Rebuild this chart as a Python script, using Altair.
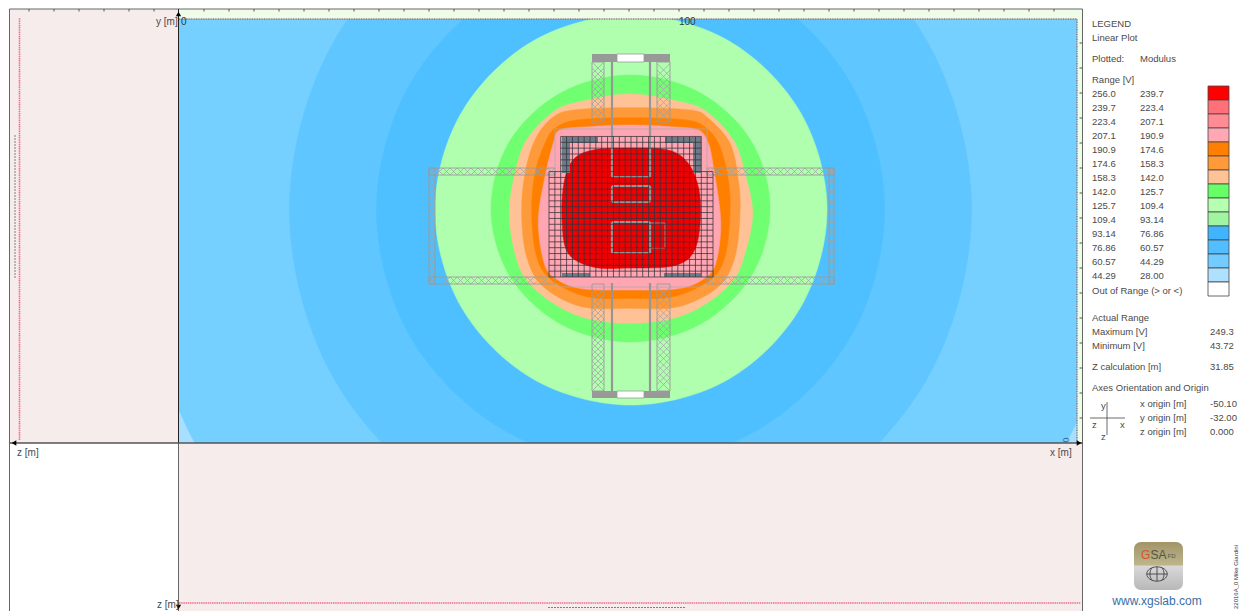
import altair as alt
import pandas as pd

# ---------- field plot contours (x [m], y [m]), outermost first ----------
contour_colors = ["#75CFFF", "#5FC6FF", "#4FC0FF", "#B0FFAE", "#70FF70", "#FFC296",
                  "#FF9A3A", "#FF8000", "#FFA6B2", "#F00000"]
contour_x = [
    [189.1,175.9,139.7,90.3,40.9,4.7,-8.5,4.7,40.9,90.3,139.7,175.9],
    [158.5,149.4,124.4,90.3,56.2,31.2,22.1,31.2,56.2,90.3,124.4,149.4],
    [141.1,134.3,115.7,90.3,64.9,46.3,39.5,46.3,64.9,90.3,115.7,134.3],
    [129.6,124.3,110.0,90.4,70.8,56.5,51.2,56.5,70.8,90.4,110.0,124.3],
    [118.2,114.5,104.3,90.3,76.3,66.1,62.4,66.1,76.3,90.3,104.3,114.5],
    [90.2,100.2,105.53,110.87,113.2,114.73,113.2,110.87,105.53,98.87,90.2,81.53,74.87,69.53,67.2,66.07,67.2,69.53,74.87,80.2],
    [90.2,102.2,105.87,110.2,111.87,112.2,111.2,107.87,99.87,90.2,80.53,72.87,69.53,68.53,69.2,71.2,74.53,78.87],
    [90.2,101.53,105.53,108.2,109.87,110.2,109.2,106.2,98.87,90.2,81.53,74.53,71.53,70.53,71.2,73.2,75.2,79.53],
    [90.2,98.2,103.87,105.87,106.87,108.33,107.53,105.53,100.2,90.2,80.2,74.87,72.87,71.87,73.2,74.87,76.2,82.2],
    [82.8,90.2,97.8,101.8,104,104.2,102.8,98.8,90.2,82.8,77.8,76.6,77,78.8],
]
contour_y = [
    [46.6,96.0,132.2,145.4,132.2,96.0,46.6,-2.8,-39.0,-52.2,-39.0,-2.8],
    [46.6,80.7,105.7,114.8,105.7,80.7,46.6,12.5,-12.5,-21.6,-12.5,12.5],
    [46.6,72.0,90.6,97.4,90.6,72.0,46.6,21.2,2.6,-4.2,2.6,21.2],
    [46.6,66.1,80.4,85.6,80.4,66.1,46.6,27.1,12.8,7.6,12.8,27.1],
    [46.9,60.3,70.0,73.6,70.0,60.3,46.9,33.5,23.8,20.2,23.8,33.5],
    [69.8,68.27,66.27,60.6,53.93,45.93,37.93,32.6,27.93,24.93,23.93,24.93,27.93,32.6,37.93,45.93,53.93,60.6,66.27,68.27],
    [67.07,66.6,64.93,59.93,52.6,45.93,37.27,31.27,27.27,26.93,27.27,31.27,37.27,45.93,53.93,60.6,64.93,66.6],
    [65.07,64.6,62.93,59.27,52.6,45.93,37.27,32.6,29.27,28.93,29.27,32.6,37.27,45.93,53.93,59.93,62.93,64.6],
    [63.6,63.27,62.6,59.93,55.27,44.6,36.6,33.27,30.93,30.6,30.93,33.27,36.6,44.6,53.27,59.93,62.6,63.27],
    [58.6,59,58.6,56,50.6,43.6,38,35.4,35,35.2,38,44.6,52,56.6],
]

# ---------- mesh ----------
mesh_x = [74.0,75.17,76.34,77.51,78.69,79.86,81.03,82.2,83.37,84.54,85.71,86.89,88.06,89.23,90.4,
          91.57,92.74,93.91,95.09,96.26,97.43,98.6,99.77,100.94,102.11,103.29,104.46,105.63,106.8]
mesh_y = [33.2,34.37,35.54,36.71,37.89,39.06,40.23,41.4,42.57,43.74,44.91,46.09,47.26,48.43,49.6,
          50.77,51.94,53.11,54.29,55.46,56.63,57.8,58.97,60.14,61.31]

# ---------- beams: x0, x1, y0, y1 ----------
beams_v = [(82.6,85,64.2,76.2),(95.6,98.2,64.2,76.2),(82.6,85,10.4,31.8),(95.6,98.2,10.4,31.8),
           (50,51.2,31.8,55),(130,131,31.8,55)]
beams_h = [(50,75.2,53.6,55),(105.6,131,53.6,55),(50,75.2,31.8,33.2),(105.6,131,31.8,33.2)]

# walls: x, x2, y, y2
walls = [(86.6,86.6,53.2,76.4),(94.2,94.2,53.2,76.4),(86.6,86.6,10.4,32),(94.2,94.2,10.4,32),
         (86.6,94.2,53.2,53.2),(86.6,94.2,51.4,51.4),(86.6,94.2,48.2,48.2),(86.6,86.6,48.2,51.4),
         (94.2,94.2,48.2,51.4),(86.6,94.2,44.2,44.2),(86.6,94.2,38,38),(86.6,86.6,38,44.2),(94.2,94.2,38,44.2)]
thin_walls = [(94.2,97.2,44,44),(97.2,97.2,39,44),(94.2,97.2,39,39)]
outline = [(75.2,105.6,62.8,62.8),(75.2,75.2,55,62.8),(105.6,105.6,55,62.8),
           (75.2,105.6,31.2,31.2)]

pads = [(76.6,83.8,60,61.2),(76.6,78.2,54,61.2),(97.2,104.4,60,61.2),(102.8,104.4,54,61.2),
        (76.6,82.2,33.2,34),(97,104.4,33.2,34)]
end_blocks = [(82.6,87.6,76.2,77.8),(93,98.2,76.2,77.8),(82.6,87.6,9,10.4),(93,98.2,9,10.4)]
end_gaps = [(87.6,93,76.2,77.8),(87.6,93,9,10.4)]

# ---------- panels: x0, x1, y0, y1, colour ----------
panel_pink = "#F7ECEC"
panel_green = "#EEFCE8"
covers = [(-33.8,0,0,86.8,panel_pink),(-34.2,-33.8,-33.6,87,"white"),(-33.8,0,-33.6,0,"white"),
          (0,180.8,-33.6,0,panel_pink),(0,180.8,84.8,86.8,panel_green),(179.6,180.8,0,84.8,panel_green),
          (-34.2,212,86.8,87,"white"),(180.8,212,-33.6,87,"white")]

ticks_top = [-30,-25,-20,-15,-10,-5,5,10,15,20,25,30,35,40,45,50,55,60,65,70,75,80,85,90,95,100,105,110,
             115,120,125,130,135,140,145,150,155,160,165,170,175]
ticks_right = [0,5,10,15,20,25,30,35,40,45,50,55,60,65,70,75,80]

# ---------- legend ----------
range_from = ["256.0","239.7","223.4","207.1","190.9","174.6","158.3","142.0","125.7","109.4","93.14","76.86","60.57","44.29"]
range_to = ["239.7","223.4","207.1","190.9","174.6","158.3","142.0","125.7","109.4","93.14","76.86","60.57","44.29","28.00"]
swatches = ["#FF0000","#FF7078","#FF8C94","#FFA8B4","#FF8000","#FF9A3A","#FFC296","#66FF66","#B4FFB0","#A0F5A0",
            "#40B4FF","#52BEFF","#72CCFF","#B0E0FF","#FFFFFF"]


def X(px):
    return (px - 179) / 5


def Y(py):
    return (443 - py) / 5


W, H = 1231, 603
xs = alt.Scale(domain=[X(8), X(8 + W)], nice=False, zero=False)
ys = alt.Scale(domain=[Y(8 + H), Y(8)], nice=False, zero=False)


def xq(f):
    return alt.X(f, type="quantitative", scale=xs, axis=None)


def yq(f):
    return alt.Y(f, type="quantitative", scale=ys, axis=None)


def rects(rows, **mark):
    df = pd.DataFrame(rows, columns=["x0", "x1", "y0", "y1"])
    return alt.Chart(df).mark_rect(**mark).encode(x=xq("x0"), x2="x1", y=yq("y0"), y2="y1")


def segs(rows, **mark):
    df = pd.DataFrame(rows, columns=["x0", "x1", "y0", "y1"])
    return alt.Chart(df).mark_rule(**mark).encode(x=xq("x0"), x2="x1", y=yq("y0"), y2="y1")


def texts(rows, align="left", size=9.5, color="#4a4a4a", angle=0, font="Liberation Sans"):
    df = pd.DataFrame([(X(a), Y(b), t) for a, b, t in rows], columns=["x", "y", "t"])
    return alt.Chart(df).mark_text(align=align, baseline="middle", fontSize=size, color=color,
                                   angle=angle, font=font).encode(x=xq("x"), y=yq("y"), text="t:N")


layers = []
# base and contours
layers.append(rects([(0, 179.6, 0, 84.8)], color="#A8DEFF"))
for c, cx, cy in zip(contour_colors, contour_x, contour_y):
    df = pd.DataFrame({"x": cx, "y": cy, "o": range(len(cx))})
    layers.append(alt.Chart(df).mark_line(interpolate="cardinal-closed", fill=c, stroke=c, strokeWidth=0.5, clip=True)
                  .encode(x=xq("x"), y=yq("y"), order="o:Q"))
# covers
cdf = pd.DataFrame(covers, columns=["x0", "x1", "y0", "y1", "c"])
layers.append(alt.Chart(cdf).mark_rect().encode(x=xq("x0"), x2="x1", y=yq("y0"), y2="y1",
                                                color=alt.Color("c:N", scale=None)))

# hatch
hatch = []
for x0, x1, y0, y1 in beams_v:
    w = x1 - x0
    y = y0
    while y + w <= y1 + 0.01:
        hatch += [(x0, x1, y, y + w), (x0, x1, y + w, y)]
        y += w / 2 if w > 2 else w
for x0, x1, y0, y1 in beams_h:
    h = y1 - y0
    x = x0
    while x + h <= x1 + 0.01:
        hatch += [(x, x + h, y0, y1), (x, x + h, y1, y0)]
        x += h
layers.append(segs(hatch, color="#a0a0a0", strokeWidth=0.7))
layers.append(rects(beams_v + beams_h, fillOpacity=0, stroke="#9a9a9a", strokeWidth=0.9))
layers.append(segs(outline, color="#b0a8a8", strokeWidth=0.8))
layers.append(rects(end_blocks, color="#999999"))
layers.append(rects(end_gaps, color="white", stroke="#999999", strokeWidth=0.8))
layers.append(segs(walls, color="#969696", strokeWidth=2.2))
layers.append(segs(thin_walls, color="#b08088", strokeWidth=1))
layers.append(rects(pads, color="#6e7a85"))
# mesh
mesh = [(x, x, mesh_y[0], mesh_y[18]) for x in mesh_x]
mesh += [(x, x, mesh_y[18], mesh_y[24]) for x in mesh_x[2:27]]
mesh += [(mesh_x[0], mesh_x[28], y, y) for y in mesh_y[:19]]
mesh += [(mesh_x[2], mesh_x[26], y, y) for y in mesh_y[19:]]
layers.append(segs(mesh, color="#33333c", strokeWidth=0.85, opacity=0.9))

# dotted lines
layers.append(segs([(0, 179.6, 84.8, 84.8), (179.6, 179.6, 0, 84.8)], color="#8c7a84", strokeWidth=1.5, strokeDash=[1, 0.7]))
layers.append(segs([(X(19.5), X(19.5), Y(440), Y(18)), (0, 180.4, Y(603), Y(603))], color="#EE7088", strokeWidth=1.6, strokeDash=[1.5, 0.7]))
layers.append(segs([(X(15), X(15), Y(278), Y(135)), (X(548), X(685), Y(607.5), Y(607.5))], color="#808080", strokeWidth=1, strokeDash=[2, 1]))

# frame
frame = [(X(9.5), X(9.5), Y(611), Y(9)), (X(1082.5), X(1082.5), Y(611), Y(9)), (X(9.5), X(1082.5), Y(9), Y(9)),
         (X(178.5), X(178.5), Y(611), Y(443))]
layers.append(segs(frame, color="#666666", strokeWidth=1))
layers.append(segs([(X(178.5), X(178.5), Y(443), Y(9))], color="#222222", strokeWidth=1))
layers.append(segs([(X(9.5), X(1082.5), Y(443), Y(443))], color="#555555", strokeWidth=1.5))
layers.append(segs([(t, t, Y(11.5), Y(9)) for t in ticks_top], color="#555555", strokeWidth=1))
layers.append(segs([(X(1079.5), X(1082.5), t, t) for t in ticks_right], color="#555555", strokeWidth=1))

# arrows
for sx, sy, sh in [(178.5, 14, "triangle-up"), (178.5, 607, "triangle-down"), (14, 443, "triangle-left"), (1079, 443, "triangle-right")]:
    layers.append(alt.Chart(pd.DataFrame({"x": [X(sx)], "y": [Y(sy)]})).mark_point(shape=sh, filled=True, size=28, color="black", opacity=1)
                  .encode(x=xq("x"), y=yq("y")))

# axis labels
layers.append(texts([(156, 22, "y [m]"), (17, 453, "z [m]"), (1050, 453, "x [m]"), (157, 605, "z [m]")], size=10))
layers.append(texts([(181, 22, "0"), (679, 22, "100")], size=10, color="#2f3b46"))
layers.append(texts([(1066, 440, "0")], align="center", color="#2a6f96", angle=270, size=9))

# legend
swatch_rows = [(X(1208), X(1229), Y(86 + 14 * (i + 1)), Y(86 + 14 * i), c) for i, c in enumerate(swatches)]
sdf = pd.DataFrame(swatch_rows, columns=["x0", "x1", "y0", "y1", "c"])
layers.append(alt.Chart(sdf).mark_rect(stroke="#444444", strokeWidth=0.8).encode(
    x=xq("x0"), x2="x1", y=yq("y0"), y2="y1", color=alt.Color("c:N", scale=None)))
legend_rows = [(1092, 23.5, "LEGEND"), (1092, 37.5, "Linear Plot"), (1092, 58.5, "Plotted:"), (1140, 58.5, "Modulus"),
               (1092, 79.5, "Range [V]"), (1092, 290.5, "Out of Range (> or <)"), (1092, 317.5, "Actual Range"),
               (1092, 331.5, "Maximum [V]"), (1210, 331.5, "249.3"), (1092, 345.5, "Minimum [V]"), (1210, 345.5, "43.72"),
               (1092, 366.5, "Z calculation [m]"), (1210, 366.5, "31.85"), (1092, 387.5, "Axes Orientation and Origin"),
               (1140, 403.5, "x origin [m]"), (1210, 403.5, "-50.10"), (1140, 417.5, "y origin [m]"), (1210, 417.5, "-32.00"),
               (1140, 431.5, "z origin [m]"), (1210, 431.5, "0.000"),
               (1101, 406, "y"), (1092, 425, "z"), (1120, 425, "x"), (1101, 437, "z")]
for i, (a, b) in enumerate(zip(range_from, range_to)):
    legend_rows += [(1092, 93.5 + 14 * i, a), (1140, 93.5 + 14 * i, b)]
layers.append(texts(legend_rows))
layers.append(segs([(X(1090), X(1125), Y(418), Y(418)), (X(1107), X(1107), Y(435), Y(402))], color="#444444", strokeWidth=0.8))

# logo
logo_fill = alt.Gradient(gradient="linear", x1=0, y1=0, x2=0, y2=1,
                         stops=[alt.GradientStop(offset=0, color="#A29467"), alt.GradientStop(offset=0.48, color="#BDB58C"),
                                alt.GradientStop(offset=0.5, color="#D8D8D8"), alt.GradientStop(offset=1, color="#B8B8B8")])
layers.append(rects([(X(1134), X(1183), Y(590), Y(542))], color=logo_fill, cornerRadius=7))
layers.append(texts([(1141, 555, "G")], size=12, color="#D9532C"))
layers.append(texts([(1150.5, 555, "SA")], size=12, color="#555544"))
layers.append(texts([(1167.5, 556, "FD")], size=6, color="#555544"))
globe = "M-1,0A1,0.7 0 1,0 1,0A1,0.7 0 1,0 -1,0M-0.45,-0.62A0.45,0.7 0 0,0 -0.45,0.62M0.45,-0.62A0.45,0.7 0 0,1 0.45,0.62M0,-0.7L0,0.7M-1,0L1,0"
layers.append(alt.Chart(pd.DataFrame({"x": [X(1157)], "y": [Y(574)]})).mark_point(shape=globe, size=420, color="#444444", strokeWidth=0.9, opacity=1)
              .encode(x=xq("x"), y=yq("y")))
layers.append(texts([(1157, 601, "www.xgslab.com")], align="center", size=12, color="#3A6EA8"))
layers.append(texts([(1235.5, 577, "22016A_0 Mike Giardini")], align="center", size=6, color="#333333", angle=270))

chart = alt.layer(*layers).properties(
    width=W, height=H, padding=0, background="white",
    autosize=alt.AutoSizeParams(type="none"),
).configure_view(stroke=None)

chart.save("out.html", embed_options={"renderer": "svg", "actions": False})
